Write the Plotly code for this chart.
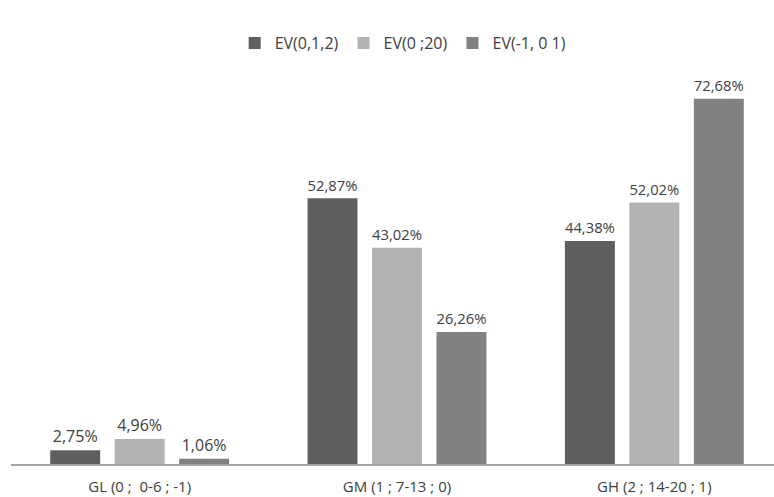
import plotly.graph_objects as go

categories = ["GL (0 ;  0-6 ; -1)", "GM (1 ; 7-13 ; 0)", "GH (2 ; 14-20 ; 1)"]
series_names = ["EV(0,1,2)", "EV(0 ;20)", "EV(-1, 0 1)"]
ev012 = [2.75, 52.87, 44.38]
ev020 = [4.96, 43.02, 52.02]
evm101 = [1.06, 26.26, 72.68]
colors = ["#5f5f5f", "#b2b2b2", "#818181"]

def fmt(v):
    return f"{v:.2f}".replace(".", ",") + "%"

fig = go.Figure()
for name, vals, col in zip(series_names, [ev012, ev020, evm101], colors):
    fig.add_trace(go.Bar(
        x=categories, y=vals, name=name,
        marker=dict(color=col, line=dict(width=0)),
        text=[fmt(v) for v in vals], textposition="outside",
        textfont=dict(size=16, color="#404040", family="Open Sans"),
        cliponaxis=False,
    ))

fig.update_layout(
    width=774, height=497,
    margin=dict(l=11, r=0, t=62, b=33, autoexpand=False),
    paper_bgcolor="white", plot_bgcolor="white",
    barmode="group", bargap=0.2485, bargroupgap=0.225,
    font=dict(family="Open Sans", size=12, color="#404040"),
    legend=dict(orientation="h", x=0.514, xanchor="center", y=1.047, yanchor="middle",
                font=dict(size=16, color="#404040"), itemwidth=30, traceorder="normal"),
    xaxis=dict(range=[-0.5, 2.465], showgrid=False, showline=True, linecolor="#a6a6a6",
               linewidth=1.5, ticks="", tickfont=dict(size=15, color="#404040"),
               ticklabelstandoff=8),
    yaxis=dict(range=[0, 80], visible=False),
    showlegend=True,
)

fig.write_html("out.html", config={"displayModeBar": False},
               post_script="document.body.style.margin='0';document.body.style.overflow='hidden';")
